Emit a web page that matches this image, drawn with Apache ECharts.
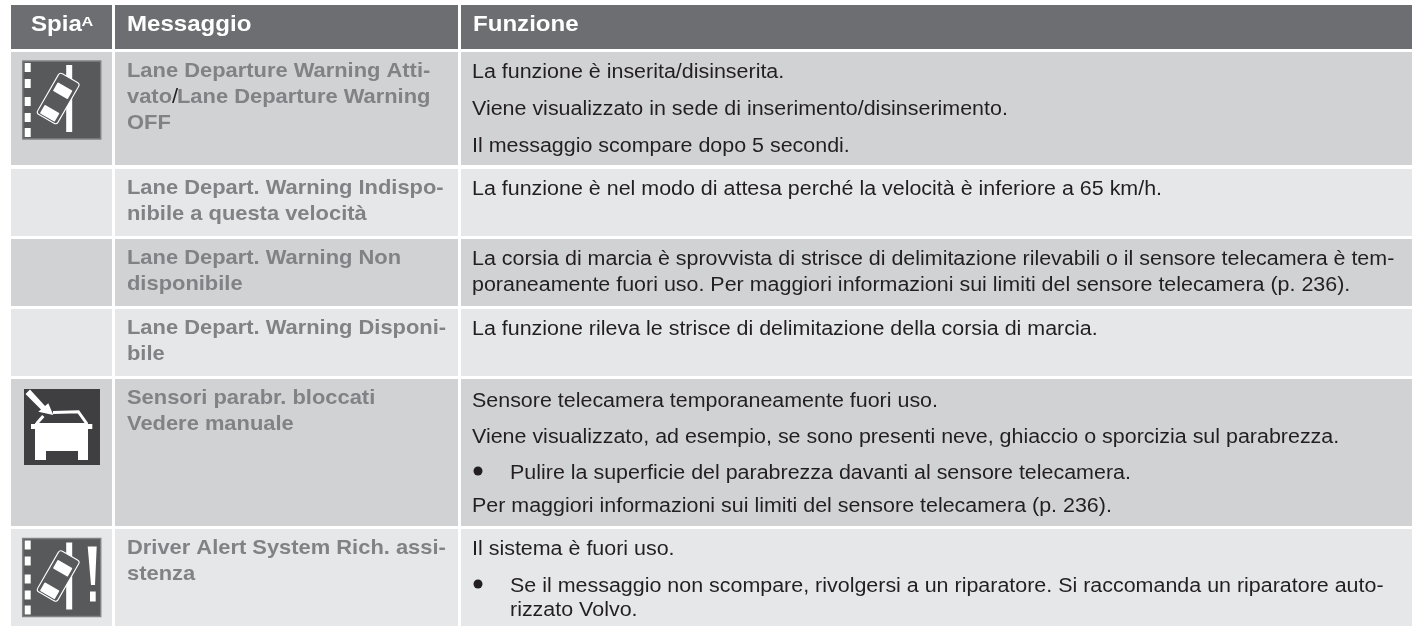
<!DOCTYPE html>
<html>
<head>
<meta charset="utf-8">
<title>Spia / Messaggio / Funzione</title>
<style>
html, body { margin: 0; padding: 0; background: #fff; }
#main { width: 1412px; height: 626px; }
</style>
<script src="https://cdn.jsdelivr.net/npm/echarts@6/dist/echarts.min.js"></script>
</head>
<body>
<div id="main"></div>
<script>
// table content
const headers = ['Spia', 'Messaggio', 'Funzione'];
const headerNote = 'A';
const messageLines = [
  ['Lane Departure Warning Atti-', 'vato', 'OFF'],
  ['Lane Depart. Warning Indispo-', 'nibile a questa velocità'],
  ['Lane Depart. Warning Non', 'disponibile'],
  ['Lane Depart. Warning Disponi-', 'bile'],
  ['Sensori parabr. bloccati', 'Vedere manuale'],
  ['Driver Alert System Rich. assi-', 'stenza']
];
const functionLines = [
  ['La funzione è inserita/disinserita.', 'Viene visualizzato in sede di inserimento/disinserimento.', 'Il messaggio scompare dopo 5 secondi.'],
  ['La funzione è nel modo di attesa perché la velocità è inferiore a 65 km/h.'],
  ['La corsia di marcia è sprovvista di strisce di delimitazione rilevabili o il sensore telecamera è tem-', 'poraneamente fuori uso. Per maggiori informazioni sui limiti del sensore telecamera (p. 236).'],
  ['La funzione rileva le strisce di delimitazione della corsia di marcia.'],
  ['Sensore telecamera temporaneamente fuori uso.', 'Viene visualizzato, ad esempio, se sono presenti neve, ghiaccio o sporcizia sul parabrezza.', 'Pulire la superficie del parabrezza davanti al sensore telecamera.', 'Per maggiori informazioni sui limiti del sensore telecamera (p. 236).'],
  ['Il sistema è fuori uso.', 'Se il messaggio non scompare, rivolgersi a un riparatore. Si raccomanda un riparatore auto-', 'rizzato Volvo.']
];
// 0 plain, 1 bullet, 2 continuation of a bullet
const functionKinds = [[0, 0, 0], [0], [0, 0], [0], [0, 0, 1, 0], [0, 1, 2]];
const rowIcons = ['lane', '', '', '', 'sensor', 'alert'];

// layout, in picture pixels
const colEdges = [[11, 112], [115, 458], [461, 1412]];
const rowEdges = [[5, 49], [52, 165], [169, 236], [239, 306], [309, 376], [379, 526], [529, 626]];
const messageBase = [[78, 104, 130], [195, 221], [265, 291], [335, 361], [405, 431], [555, 581]];
const functionBase = [[78, 115, 152], [195], [265, 291], [335], [407, 443, 479, 512], [555, 592, 616]];

const FONT = 'Liberation Sans';
const HEAD = '#6d6e71', DARK = '#d1d2d4', LIGHT = '#e6e7e9', GREY = '#808285', INK = '#231f20';
// the reference type is wider than Liberation Sans, so text is stretched a little
const BODY = { size: 20, stretch: 1.072 };
const MSG = { size: 20.5, stretch: 1.068 };
const HEAD_TEXT = { size: 22.5, stretch: 1.07 };
const NOTE = { size: 13, stretch: 1.25 };

const cells = [];
rowEdges.forEach((r, i) => colEdges.forEach(c => {
  cells.push([c[0], r[0], c[1], r[1], i === 0 ? HEAD : (i % 2 ? DARK : LIGHT)]);
}));

// x, baseline, text, weight, type, colour
const runs = [];
const bullets = [];
runs.push([31, 32, headers[0], 'bold', HEAD_TEXT, '#fff']);
runs.push([81.5, 26, headerNote, 'bold', NOTE, '#fff']);
runs.push([127, 32, headers[1], 'bold', HEAD_TEXT, '#fff']);
runs.push([473, 32, headers[2], 'bold', HEAD_TEXT, '#fff']);
messageLines.forEach((lines, i) => lines.forEach((t, j) => {
  runs.push([127, messageBase[i][j], t, 'bold', MSG, GREY]);
}));
runs.push([172, 104, '/', 'normal', MSG, INK]);
runs.push([177, 104, 'Lane Departure Warning', 'bold', MSG, GREY]);
functionLines.forEach((lines, i) => lines.forEach((t, j) => {
  const kind = functionKinds[i][j];
  if (kind === 1) bullets.push([478, functionBase[i][j] - 8]);
  runs.push([kind ? 510 : 472, functionBase[i][j], t, 'normal', BODY, INK]);
}));

function rect(x, y, w, h, fill, r) {
  return { type: 'rect', shape: { x, y, width: w, height: h, r: r || 0 }, style: { fill } };
}
function poly(points, fill) {
  return { type: 'polygon', shape: { points }, style: { fill } };
}
function line(points, width) {
  return { type: 'polyline', shape: { points }, style: { fill: 'none', stroke: '#fff', lineWidth: width } };
}

function laneIcon(alert) {
  const c = [];
  c.push({ type: 'rect', shape: { x: 0, y: 0, width: 78, height: 78 }, style: { fill: '#58595b', stroke: '#808285', lineWidth: 1.5 } });
  [2, 18, 36, 52, 67].forEach(y => c.push(rect(2, y, 6, 9, '#fff')));
  c.push(rect(43.5, 4, 6, 67, '#fff'));
  c.push({
    type: 'group', x: 35.5, y: 37.5, rotation: -Math.PI / 6,
    children: [
      { type: 'rect', shape: { x: -11.7, y: -23.5, width: 23.4, height: 47, r: 3 }, style: { fill: '#58595b', stroke: '#fff', lineWidth: 1.1 } },
      rect(-8.5, -14, 17, 10, '#fff', 1),
      rect(-8.5, 12, 17, 10, '#fff', 1)
    ]
  });
  if (alert) {
    c.push(poly([[65, 8], [74, 8], [72.3, 46.5], [68.3, 46.5]], '#fff'));
    c.push(rect(67.3, 53, 5.7, 10, '#fff'));
  }
  return c;
}

function sensorIcon() {
  return [
    rect(0, 0, 76, 76, '#3f3f41'),
    poly([[1.5, 5], [6, 0.5], [21, 17], [24.3, 14.3], [29.3, 26], [14.3, 22.7], [17, 20.5]], '#fff'),
    line([[29, 23.5], [54.3, 22.7], [62.7, 34.5]], 3),
    line([[12.7, 34.5], [19.3, 27]], 3),
    poly([[11, 34], [64, 34], [64, 35], [68.3, 35], [68.3, 40], [64, 40], [64, 71], [54, 71], [54, 62], [22, 62], [22, 71], [11, 71], [11, 40], [7, 40], [7, 35], [11, 35]], '#fff')
  ];
}

const iconAt = { lane: [22.7, 61], sensor: [24, 389], alert: [22.7, 538.5] };
const iconData = rowIcons.filter(n => n).map(n => [iconAt[n][0], iconAt[n][1], n]);

const chart = echarts.init(document.getElementById('main'), null, { renderer: 'canvas' });
chart.setOption({
  animation: false,
  backgroundColor: '#fff',
  grid: { left: 0, right: 0, top: 0, bottom: 0 },
  xAxis: { type: 'value', min: 0, max: 1412, show: false },
  yAxis: { type: 'value', min: 0, max: 626, inverse: true, show: false },
  series: [
    {
      type: 'custom', coordinateSystem: 'cartesian2d', silent: true, z: 1,
      data: cells,
      encode: { x: [0, 2], y: [1, 3] },
      renderItem: (params, api) => {
        const a = api.coord([api.value(0), api.value(1)]);
        const b = api.coord([api.value(2), api.value(3)]);
        return { type: 'rect', shape: { x: a[0], y: a[1], width: b[0] - a[0], height: b[1] - a[1] }, style: { fill: cells[params.dataIndex][4] } };
      }
    },
    {
      type: 'custom', coordinateSystem: 'cartesian2d', silent: true, z: 2,
      data: iconData,
      encode: { x: 0, y: 1 },
      renderItem: (params, api) => {
        const p = api.coord([api.value(0), api.value(1)]);
        const name = iconData[params.dataIndex][2];
        const children = name === 'sensor' ? sensorIcon() : laneIcon(name === 'alert');
        return { type: 'group', x: p[0], y: p[1], children };
      }
    },
    {
      type: 'custom', coordinateSystem: 'cartesian2d', silent: true, z: 3,
      data: bullets,
      encode: { x: 0, y: 1 },
      renderItem: (params, api) => {
        const p = api.coord([api.value(0), api.value(1)]);
        return { type: 'circle', shape: { cx: p[0], cy: p[1], r: 4.5 }, style: { fill: INK } };
      }
    },
    {
      type: 'custom', coordinateSystem: 'cartesian2d', silent: true, z: 4,
      data: runs.map(r => [r[0], r[1]]),
      encode: { x: 0, y: 1 },
      renderItem: (params, api) => {
        const p = api.coord([api.value(0), api.value(1)]);
        const r = runs[params.dataIndex];
        return {
          type: 'text', x: p[0], y: p[1] + 0.2 * r[4].size, scaleX: r[4].stretch,
          style: { text: r[2], fontFamily: FONT, fontWeight: r[3], fontSize: r[4].size, fill: r[5], align: 'left', verticalAlign: 'bottom' }
        };
      }
    }
  ]
});
</script>
</body>
</html>
